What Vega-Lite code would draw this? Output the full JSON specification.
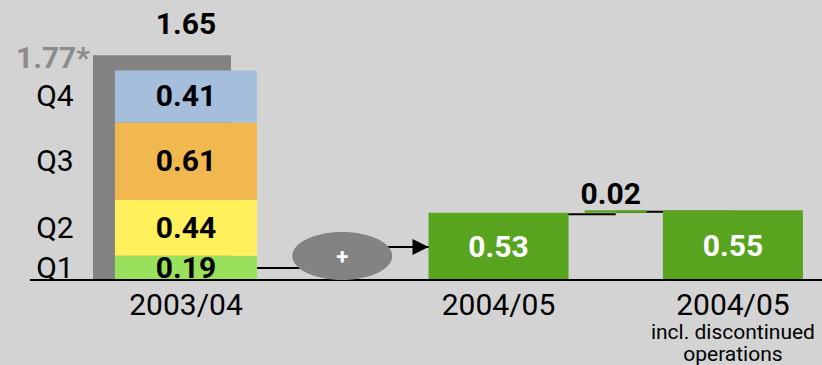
{
  "$schema": "https://vega.github.io/schema/vega-lite/v6.json",
  "width": 822,
  "height": 365,
  "padding": 0,
  "autosize": "none",
  "background": "#d3d3d3",
  "config": {"view": {"stroke": null}, "font": "Roboto", "text": {"font": "Roboto"}},
  "datasets": {
    "quarters": [
      {"cat": "2003/04", "quarter": "Q1", "eps": 0.19},
      {"cat": "2003/04", "quarter": "Q2", "eps": 0.44},
      {"cat": "2003/04", "quarter": "Q3", "eps": 0.61},
      {"cat": "2003/04", "quarter": "Q4", "eps": 0.41}
    ],
    "gray": [{"cat": "2003/04", "eps": 1.77, "label": "1.77*"}],
    "total": [{"cat": "2003/04", "eps": 1.65, "label": "1.65"}],
    "green": [
      {"cat": "2004/05", "eps": 0.53},
      {"cat": "2004/05 incl.", "eps": 0.55}
    ],
    "change": [{"cat": "change", "prev": "2004/05", "next": "2004/05 incl.", "start": 0.53, "end": 0.55, "label": "0.02"}],
    "cats": [
      {"cat": "2003/04", "label": "2003/04"},
      {"cat": "2004/05", "label": "2004/05"},
      {"cat": "2004/05 incl.", "label": "2004/05"}
    ],
    "note1": [{"cat": "2004/05 incl.", "label": "incl. discontinued"}],
    "note2": [{"cat": "2004/05 incl.", "label": "operations"}],
    "link1": [{"from": "2003/04", "to": "plus"}],
    "link2": [{"from": "plus", "to": "2004/05"}],
    "axisline": [{"from": "2003/04", "to": "2004/05 incl."}],
    "plus": [{"cat": "plus", "label": "+"}],
    "arrow": [{"cat": "2004/05"}]
  },
  "layer": [
    {
      "data": {"name": "link1"},
      "mark": {"type": "rule", "color": "#000000", "strokeWidth": 2},
      "encoding": {
        "x": {"field": "from", "type": "nominal", "axis": null, "scale": {"type": "band", "domain": ["p1","p2","p3","p4","2003/04","s1","s2","s3","plus","s5","s6","s7","2004/05","s9","s10","change","s12","s13","2004/05 incl.","p5"], "paddingInner": 0, "paddingOuter": 0.52, "align": 0.25}},
        "x2": {"field": "to"},
        "y": {"datum": 0.094, "type": "quantitative", "axis": null, "scale": {"domain": [-0.6693, 2.2047], "nice": false, "zero": false}}
      }
    },
    {
      "data": {"name": "link2"},
      "mark": {"type": "rule", "color": "#000000", "strokeWidth": 2},
      "encoding": {
        "x": {"field": "from", "type": "nominal", "axis": null, "scale": {"type": "band", "domain": ["p1","p2","p3","p4","2003/04","s1","s2","s3","plus","s5","s6","s7","2004/05","s9","s10","change","s12","s13","2004/05 incl.","p5"], "paddingInner": 0, "paddingOuter": 0.52, "align": 0.25}},
        "x2": {"field": "to"},
        "y": {"datum": 0.26, "type": "quantitative", "axis": null, "scale": {"domain": [-0.6693, 2.2047], "nice": false, "zero": false}}
      }
    },
    {
      "data": {"name": "change"},
      "mark": {"type": "rule", "color": "#000000", "strokeWidth": 2, "yOffset": 1.5},
      "encoding": {
        "x": {"field": "prev", "type": "nominal", "axis": null, "scale": {"type": "band", "domain": ["p1","p2","p3","p4","2003/04","s1","s2","s3","plus","s5","s6","s7","2004/05","s9","s10","change","s12","s13","2004/05 incl.","p5"], "paddingInner": 0, "paddingOuter": 0.52, "align": 0.25}},
        "x2": {"field": "cat"},
        "y": {"field": "start", "type": "quantitative", "axis": null, "scale": {"domain": [-0.6693, 2.2047], "nice": false, "zero": false}}
      }
    },
    {
      "data": {"name": "change"},
      "mark": {"type": "rule", "color": "#000000", "strokeWidth": 2, "yOffset": 1.5},
      "encoding": {
        "x": {"field": "cat", "type": "nominal", "axis": null, "scale": {"type": "band", "domain": ["p1","p2","p3","p4","2003/04","s1","s2","s3","plus","s5","s6","s7","2004/05","s9","s10","change","s12","s13","2004/05 incl.","p5"], "paddingInner": 0, "paddingOuter": 0.52, "align": 0.25}},
        "x2": {"field": "next"},
        "y": {"field": "end", "type": "quantitative", "axis": null, "scale": {"domain": [-0.6693, 2.2047], "nice": false, "zero": false}}
      }
    },
    {
      "data": {"name": "gray"},
      "mark": {"type": "bar", "width": 138, "xOffset": -24, "color": "#828282"},
      "encoding": {
        "x": {"field": "cat", "type": "nominal", "axis": null, "scale": {"type": "band", "domain": ["p1","p2","p3","p4","2003/04","s1","s2","s3","plus","s5","s6","s7","2004/05","s9","s10","change","s12","s13","2004/05 incl.","p5"], "paddingInner": 0, "paddingOuter": 0.52, "align": 0.25}},
        "y": {"field": "eps", "type": "quantitative", "axis": null, "scale": {"domain": [-0.6693, 2.2047], "nice": false, "zero": false}}
      }
    },
    {
      "data": {"name": "quarters"},
      "transform": [
        {"stack": "eps", "groupby": ["cat"], "sort": [{"field": "quarter", "order": "ascending"}], "as": ["y0", "y1"]}
      ],
      "mark": {"type": "bar", "width": 142},
      "encoding": {
        "x": {"field": "cat", "type": "nominal", "axis": null, "scale": {"type": "band", "domain": ["p1","p2","p3","p4","2003/04","s1","s2","s3","plus","s5","s6","s7","2004/05","s9","s10","change","s12","s13","2004/05 incl.","p5"], "paddingInner": 0, "paddingOuter": 0.52, "align": 0.25}},
        "y": {"field": "y0", "type": "quantitative", "axis": null, "scale": {"domain": [-0.6693, 2.2047], "nice": false, "zero": false}},
        "y2": {"field": "y1"},
        "color": {"field": "quarter", "type": "nominal", "legend": null, "scale": {"domain": ["Q1", "Q2", "Q3", "Q4"], "range": ["#99e15c", "#fff05c", "#f0b84f", "#a4bedc"]}}
      }
    },
    {
      "data": {"name": "green"},
      "mark": {"type": "bar", "width": 140, "color": "#58a41f"},
      "encoding": {
        "x": {"field": "cat", "type": "nominal", "axis": null, "scale": {"type": "band", "domain": ["p1","p2","p3","p4","2003/04","s1","s2","s3","plus","s5","s6","s7","2004/05","s9","s10","change","s12","s13","2004/05 incl.","p5"], "paddingInner": 0, "paddingOuter": 0.52, "align": 0.25}},
        "y": {"field": "eps", "type": "quantitative", "axis": null, "scale": {"domain": [-0.6693, 2.2047], "nice": false, "zero": false}}
      }
    },
    {
      "data": {"name": "change"},
      "mark": {"type": "bar", "width": 62, "color": "#58a41f"},
      "encoding": {
        "x": {"field": "cat", "type": "nominal", "axis": null, "scale": {"type": "band", "domain": ["p1","p2","p3","p4","2003/04","s1","s2","s3","plus","s5","s6","s7","2004/05","s9","s10","change","s12","s13","2004/05 incl.","p5"], "paddingInner": 0, "paddingOuter": 0.52, "align": 0.25}},
        "y": {"field": "start", "type": "quantitative", "axis": null, "scale": {"domain": [-0.6693, 2.2047], "nice": false, "zero": false}},
        "y2": {"field": "end"}
      }
    },
    {
      "data": {"name": "axisline"},
      "mark": {"type": "rule", "color": "#000000", "strokeWidth": 2, "xOffset": -156, "x2Offset": 89},
      "encoding": {
        "x": {"field": "from", "type": "nominal", "axis": null, "scale": {"type": "band", "domain": ["p1","p2","p3","p4","2003/04","s1","s2","s3","plus","s5","s6","s7","2004/05","s9","s10","change","s12","s13","2004/05 incl.","p5"], "paddingInner": 0, "paddingOuter": 0.52, "align": 0.25}},
        "x2": {"field": "to"},
        "y": {"datum": 0, "type": "quantitative", "axis": null, "scale": {"domain": [-0.6693, 2.2047], "nice": false, "zero": false}}
      }
    },
    {
      "data": {"name": "plus"},
      "mark": {"type": "point", "filled": true, "opacity": 1, "color": "#838383", "size": 10000, "shape": "M-1,0C-1,-0.2651,-0.5523,-0.48,0,-0.48C0.5523,-0.48,1,-0.2651,1,0C1,0.2651,0.5523,0.48,0,0.48C-0.5523,0.48,-1,0.2651,-1,0Z"},
      "encoding": {
        "x": {"field": "cat", "type": "nominal", "axis": null, "scale": {"type": "band", "domain": ["p1","p2","p3","p4","2003/04","s1","s2","s3","plus","s5","s6","s7","2004/05","s9","s10","change","s12","s13","2004/05 incl.","p5"], "paddingInner": 0, "paddingOuter": 0.52, "align": 0.25}},
        "y": {"datum": 0.189, "type": "quantitative", "axis": null, "scale": {"domain": [-0.6693, 2.2047], "nice": false, "zero": false}}
      }
    },
    {
      "data": {"name": "arrow"},
      "mark": {"type": "point", "filled": true, "opacity": 1, "color": "#000000", "size": 256, "xOffset": -78, "shape": "M-1,-1L1,0L-1,1Z"},
      "encoding": {
        "x": {"field": "cat", "type": "nominal", "axis": null, "scale": {"type": "band", "domain": ["p1","p2","p3","p4","2003/04","s1","s2","s3","plus","s5","s6","s7","2004/05","s9","s10","change","s12","s13","2004/05 incl.","p5"], "paddingInner": 0, "paddingOuter": 0.52, "align": 0.25}},
        "y": {"datum": 0.26, "type": "quantitative", "axis": null, "scale": {"domain": [-0.6693, 2.2047], "nice": false, "zero": false}}
      }
    },
    {
      "data": {"name": "plus"},
      "mark": {"type": "text", "color": "#ffffff", "fontSize": 22, "fontWeight": "bold", "baseline": "middle", "align": "center", "dy": 1},
      "encoding": {
        "x": {"field": "cat", "type": "nominal", "axis": null, "scale": {"type": "band", "domain": ["p1","p2","p3","p4","2003/04","s1","s2","s3","plus","s5","s6","s7","2004/05","s9","s10","change","s12","s13","2004/05 incl.","p5"], "paddingInner": 0, "paddingOuter": 0.52, "align": 0.25}},
        "y": {"datum": 0.189, "type": "quantitative", "axis": null, "scale": {"domain": [-0.6693, 2.2047], "nice": false, "zero": false}},
        "text": {"field": "label", "type": "nominal"}
      }
    },
    {
      "data": {"name": "quarters"},
      "transform": [
        {"stack": "eps", "groupby": ["cat"], "sort": [{"field": "quarter", "order": "ascending"}], "as": ["y0", "y1"]},
        {"calculate": "(datum.y0 + datum.y1) / 2", "as": "mid"}
      ],
      "mark": {"type": "text", "fontSize": 30, "fontWeight": "bold", "color": "#000000", "baseline": "middle", "align": "center", "dy": 1},
      "encoding": {
        "x": {"field": "cat", "type": "nominal", "axis": null, "scale": {"type": "band", "domain": ["p1","p2","p3","p4","2003/04","s1","s2","s3","plus","s5","s6","s7","2004/05","s9","s10","change","s12","s13","2004/05 incl.","p5"], "paddingInner": 0, "paddingOuter": 0.52, "align": 0.25}},
        "y": {"field": "mid", "type": "quantitative", "axis": null, "scale": {"domain": [-0.6693, 2.2047], "nice": false, "zero": false}},
        "text": {"field": "eps", "type": "quantitative", "format": ".2f"}
      }
    },
    {
      "data": {"name": "quarters"},
      "transform": [
        {"stack": "eps", "groupby": ["cat"], "sort": [{"field": "quarter", "order": "ascending"}], "as": ["y0", "y1"]},
        {"calculate": "(datum.y0 + datum.y1) / 2", "as": "mid"}
      ],
      "mark": {"type": "text", "fontSize": 30, "color": "#000000", "baseline": "middle", "align": "center", "xOffset": -131, "dy": 1},
      "encoding": {
        "x": {"field": "cat", "type": "nominal", "axis": null, "scale": {"type": "band", "domain": ["p1","p2","p3","p4","2003/04","s1","s2","s3","plus","s5","s6","s7","2004/05","s9","s10","change","s12","s13","2004/05 incl.","p5"], "paddingInner": 0, "paddingOuter": 0.52, "align": 0.25}},
        "y": {"field": "mid", "type": "quantitative", "axis": null, "scale": {"domain": [-0.6693, 2.2047], "nice": false, "zero": false}},
        "text": {"field": "quarter", "type": "nominal"}
      }
    },
    {
      "data": {"name": "total"},
      "mark": {"type": "text", "fontSize": 30, "fontWeight": "bold", "color": "#000000", "baseline": "alphabetic", "align": "center", "dy": -36},
      "encoding": {
        "x": {"field": "cat", "type": "nominal", "axis": null, "scale": {"type": "band", "domain": ["p1","p2","p3","p4","2003/04","s1","s2","s3","plus","s5","s6","s7","2004/05","s9","s10","change","s12","s13","2004/05 incl.","p5"], "paddingInner": 0, "paddingOuter": 0.52, "align": 0.25}},
        "y": {"field": "eps", "type": "quantitative", "axis": null, "scale": {"domain": [-0.6693, 2.2047], "nice": false, "zero": false}},
        "text": {"field": "label", "type": "nominal"}
      }
    },
    {
      "data": {"name": "gray"},
      "mark": {"type": "text", "fontSize": 30, "fontWeight": "bold", "color": "#8c8c8c", "baseline": "alphabetic", "align": "right", "xOffset": -96, "dy": 13},
      "encoding": {
        "x": {"field": "cat", "type": "nominal", "axis": null, "scale": {"type": "band", "domain": ["p1","p2","p3","p4","2003/04","s1","s2","s3","plus","s5","s6","s7","2004/05","s9","s10","change","s12","s13","2004/05 incl.","p5"], "paddingInner": 0, "paddingOuter": 0.52, "align": 0.25}},
        "y": {"field": "eps", "type": "quantitative", "axis": null, "scale": {"domain": [-0.6693, 2.2047], "nice": false, "zero": false}},
        "text": {"field": "label", "type": "nominal"}
      }
    },
    {
      "data": {"name": "green"},
      "transform": [{"calculate": "datum.eps / 2", "as": "mid"}],
      "mark": {"type": "text", "fontSize": 30, "fontWeight": "bold", "color": "#ffffff", "baseline": "middle", "align": "center", "dy": 2},
      "encoding": {
        "x": {"field": "cat", "type": "nominal", "axis": null, "scale": {"type": "band", "domain": ["p1","p2","p3","p4","2003/04","s1","s2","s3","plus","s5","s6","s7","2004/05","s9","s10","change","s12","s13","2004/05 incl.","p5"], "paddingInner": 0, "paddingOuter": 0.52, "align": 0.25}},
        "y": {"field": "mid", "type": "quantitative", "axis": null, "scale": {"domain": [-0.6693, 2.2047], "nice": false, "zero": false}},
        "text": {"field": "eps", "type": "quantitative", "format": ".2f"}
      }
    },
    {
      "data": {"name": "change"},
      "mark": {"type": "text", "fontSize": 30, "fontWeight": "bold", "color": "#000000", "baseline": "alphabetic", "align": "center", "dy": -6, "dx": -5},
      "encoding": {
        "x": {"field": "cat", "type": "nominal", "axis": null, "scale": {"type": "band", "domain": ["p1","p2","p3","p4","2003/04","s1","s2","s3","plus","s5","s6","s7","2004/05","s9","s10","change","s12","s13","2004/05 incl.","p5"], "paddingInner": 0, "paddingOuter": 0.52, "align": 0.25}},
        "y": {"field": "end", "type": "quantitative", "axis": null, "scale": {"domain": [-0.6693, 2.2047], "nice": false, "zero": false}},
        "text": {"field": "label", "type": "nominal"}
      }
    },
    {
      "data": {"name": "cats"},
      "mark": {"type": "text", "fontSize": 30, "color": "#000000", "baseline": "alphabetic", "align": "center", "dy": 35},
      "encoding": {
        "x": {"field": "cat", "type": "nominal", "axis": null, "scale": {"type": "band", "domain": ["p1","p2","p3","p4","2003/04","s1","s2","s3","plus","s5","s6","s7","2004/05","s9","s10","change","s12","s13","2004/05 incl.","p5"], "paddingInner": 0, "paddingOuter": 0.52, "align": 0.25}},
        "y": {"datum": 0, "type": "quantitative", "axis": null, "scale": {"domain": [-0.6693, 2.2047], "nice": false, "zero": false}},
        "text": {"field": "label", "type": "nominal"}
      }
    },
    {
      "data": {"name": "note1"},
      "mark": {"type": "text", "fontSize": 21, "color": "#000000", "baseline": "alphabetic", "align": "center", "dy": 59},
      "encoding": {
        "x": {"field": "cat", "type": "nominal", "axis": null, "scale": {"type": "band", "domain": ["p1","p2","p3","p4","2003/04","s1","s2","s3","plus","s5","s6","s7","2004/05","s9","s10","change","s12","s13","2004/05 incl.","p5"], "paddingInner": 0, "paddingOuter": 0.52, "align": 0.25}},
        "y": {"datum": 0, "type": "quantitative", "axis": null, "scale": {"domain": [-0.6693, 2.2047], "nice": false, "zero": false}},
        "text": {"field": "label", "type": "nominal"}
      }
    },
    {
      "data": {"name": "note2"},
      "mark": {"type": "text", "fontSize": 21, "color": "#000000", "baseline": "alphabetic", "align": "center", "dy": 81},
      "encoding": {
        "x": {"field": "cat", "type": "nominal", "axis": null, "scale": {"type": "band", "domain": ["p1","p2","p3","p4","2003/04","s1","s2","s3","plus","s5","s6","s7","2004/05","s9","s10","change","s12","s13","2004/05 incl.","p5"], "paddingInner": 0, "paddingOuter": 0.52, "align": 0.25}},
        "y": {"datum": 0, "type": "quantitative", "axis": null, "scale": {"domain": [-0.6693, 2.2047], "nice": false, "zero": false}},
        "text": {"field": "label", "type": "nominal"}
      }
    }
  ]
}
